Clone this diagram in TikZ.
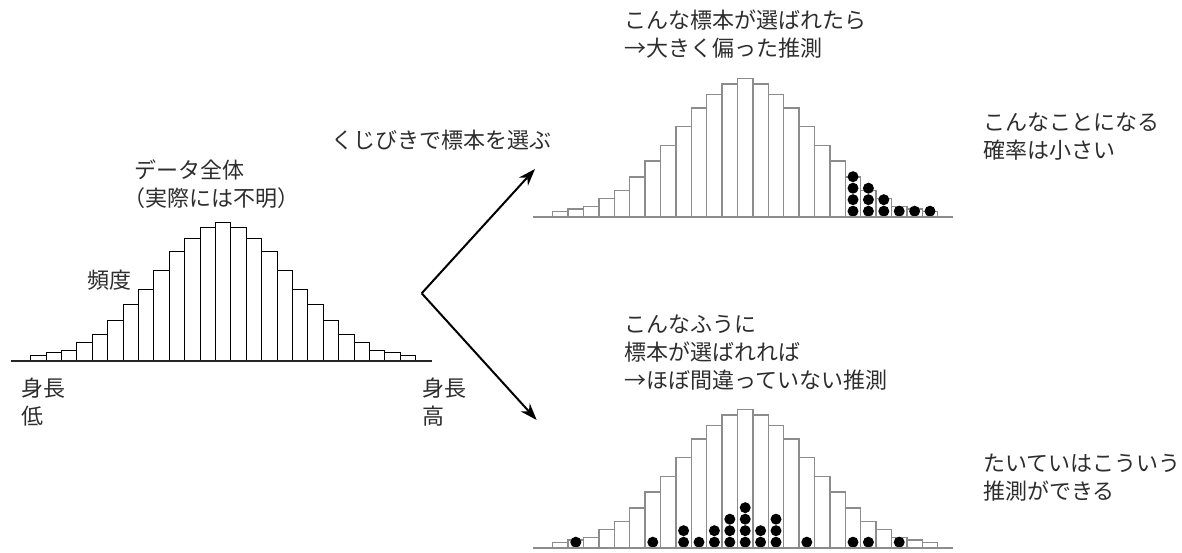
\documentclass[tikz,border=0pt]{standalone}
\usepackage{fontspec}
\setmainfont{Noto Sans CJK JP}
\usepackage{tikz}
\usetikzlibrary{arrows.meta}
\definecolor{txdark}{RGB}{45,45,45}
\definecolor{bargray}{RGB}{140,140,140}
\tikzset{
  tag/.style={font=\fontsize{22}{28}\selectfont, text=txdark, align=left, inner sep=0pt},
  barl/.style={draw=black, line width=1pt, fill=white},
  barr/.style={draw=bargray, line width=1.5pt, fill=white},
  axisl/.style={draw=black!85, line width=1.3pt},
  axisr/.style={draw=bargray, line width=1.5pt},
  ball/.style={fill=black},
  lot/.style={-{Stealth[length=17pt,width=12pt]}, line width=2pt, draw=black},
}
\newcommand\barheights{5.5,8,10.5,18.5,26.5,40,56,71.5,90.5,109,122.5,133,138.5,133,122.5,109,90.5,71.5,56,40,26.5,18.5,10.5,8,5.5}

\begin{document}
\begin{tikzpicture}[x=1pt,y=1pt]
\useasboundingbox (0,0) rectangle (1182,553);
% population
\begin{scope}[shift={(30.7,192)}]
\foreach \h [count=\i from 0] in \barheights
  \draw[barl] (\i*15.4,0) rectangle ++(15.4,\h);
\end{scope}
\draw[axisl] (11,192) -- (432,192);
\node[tag, anchor=west] (whole) at (134,369) {データ全体\\\hspace*{-.5em}（実際には不明）};
\node[tag] (freq) at (109,273) {頻度};
\node[tag, anchor=west] (lowend) at (21,150.5) {身長\\低};
\node[tag, anchor=west] (highend) at (422,150.5) {身長\\高};
% lottery
\node[tag] (drawlot) at (441.5,413) {くじびきで標本を選ぶ};
\coordinate (fork) at (421.7,259.7);
\coordinate (uptip) at (535,384);
\coordinate (downtip) at (536.7,133);
\draw[lot] (fork) -- (uptip);
\draw[lot] (fork) -- (downtip);
% biased sample
\begin{scope}[shift={(552.7,336)}]
\foreach \h [count=\i from 0] in \barheights
  \draw[barr] (\i*15.4,0) rectangle ++(15.4,\h);
\foreach \b/\n in {19/4,20/3,21/2,22/1,23/1,24/1}
  \foreach \k in {1,...,\n}
    \fill[ball] ({(\b+0.5)*15.4},{5.8+(\k-1)*11.5}) circle (5.5);
\end{scope}
\draw[axisr] (533,336) -- (953,336);
\node[tag, anchor=west] (biased) at (624,519) {こんな標本が選ばれたら\\→大きく偏った推測};
\node[tag, anchor=west] (rarenote) at (983,416.5) {こんなことになる\\確率は小さい};
% typical sample
\begin{scope}[shift={(552.7,5)}]
\foreach \h [count=\i from 0] in \barheights
  \draw[barr] (\i*15.4,0) rectangle ++(15.4,\h);
\foreach \b/\n in {1/1,6/1,8/2,9/1,10/2,11/3,12/4,13/2,14/3,16/1,19/1,20/1,22/1}
  \foreach \k in {1,...,\n}
    \fill[ball] ({(\b+0.5)*15.4},{5.8+(\k-1)*11.5}) circle (5.5);
\end{scope}
\draw[axisr] (533,5) -- (953,5);
\node[tag, anchor=west] (typical) at (624,200.3) {こんなふうに\\標本が選ばれれば\\→ほぼ間違っていない推測};
\node[tag, anchor=west] (oftennote) at (983,75.5) {たいていはこういう\\推測ができる};
\end{tikzpicture}
\end{document}
